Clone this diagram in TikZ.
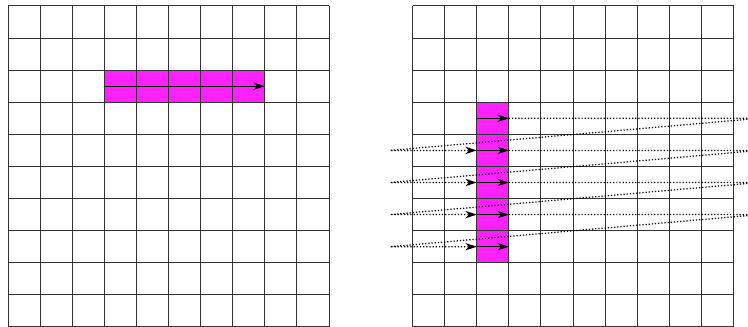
\documentclass[tikz,border=0pt]{standalone}
\usetikzlibrary{arrows.meta}

\definecolor{cellpink}{RGB}{255,34,255}

\tikzset{
    gridline/.style={black!80, line width=0.9pt},
    scanline/.style={dash pattern=on 1.1pt off 1.7pt, line width=1.1pt},
    moveline/.style={line width=1.1pt}
}

\begin{document}
\begin{tikzpicture}[
    x=1cm, y=1cm,
    >={Stealth[length=10pt,width=6.5pt,inset=3pt]}
]

\useasboundingbox (-0.25,0.03) rectangle (23.05,10.185);

% Left grid: one row of cells
\fill[cellpink] (3,7) rectangle (8,8);
\draw[gridline] (0,0) grid (10,10);

\coordinate (rowstart) at (3,7.5);
\coordinate (rowend) at (8,7.5);
\draw[moveline,->] (rowstart) -- (rowend);

% Right grid: one column of cells, scanned row by row
\begin{scope}[xshift=12.6cm]
    \fill[cellpink] (2,2) rectangle (3,7);
    \draw[gridline] (0,0) grid (10,10);

    \foreach \r [evaluate=\r as \y using 7.5-\r] in {1,...,5} {
        \coordinate (s\r) at (2,\y);
        \coordinate (e\r) at (3,\y);
        \coordinate (far\r) at (10.8,\y);
        \coordinate (back\r) at (-0.7,\y);
    }

    \foreach \r in {1,...,5}
        \draw[moveline,->] (s\r) -- (e\r);

    \foreach \r [count=\n from 2] in {1,...,4}
        \draw[scanline,->] (e\r) -- (far\r) -- (back\n) -- (s\n);
\end{scope}

\end{tikzpicture}
\end{document}
